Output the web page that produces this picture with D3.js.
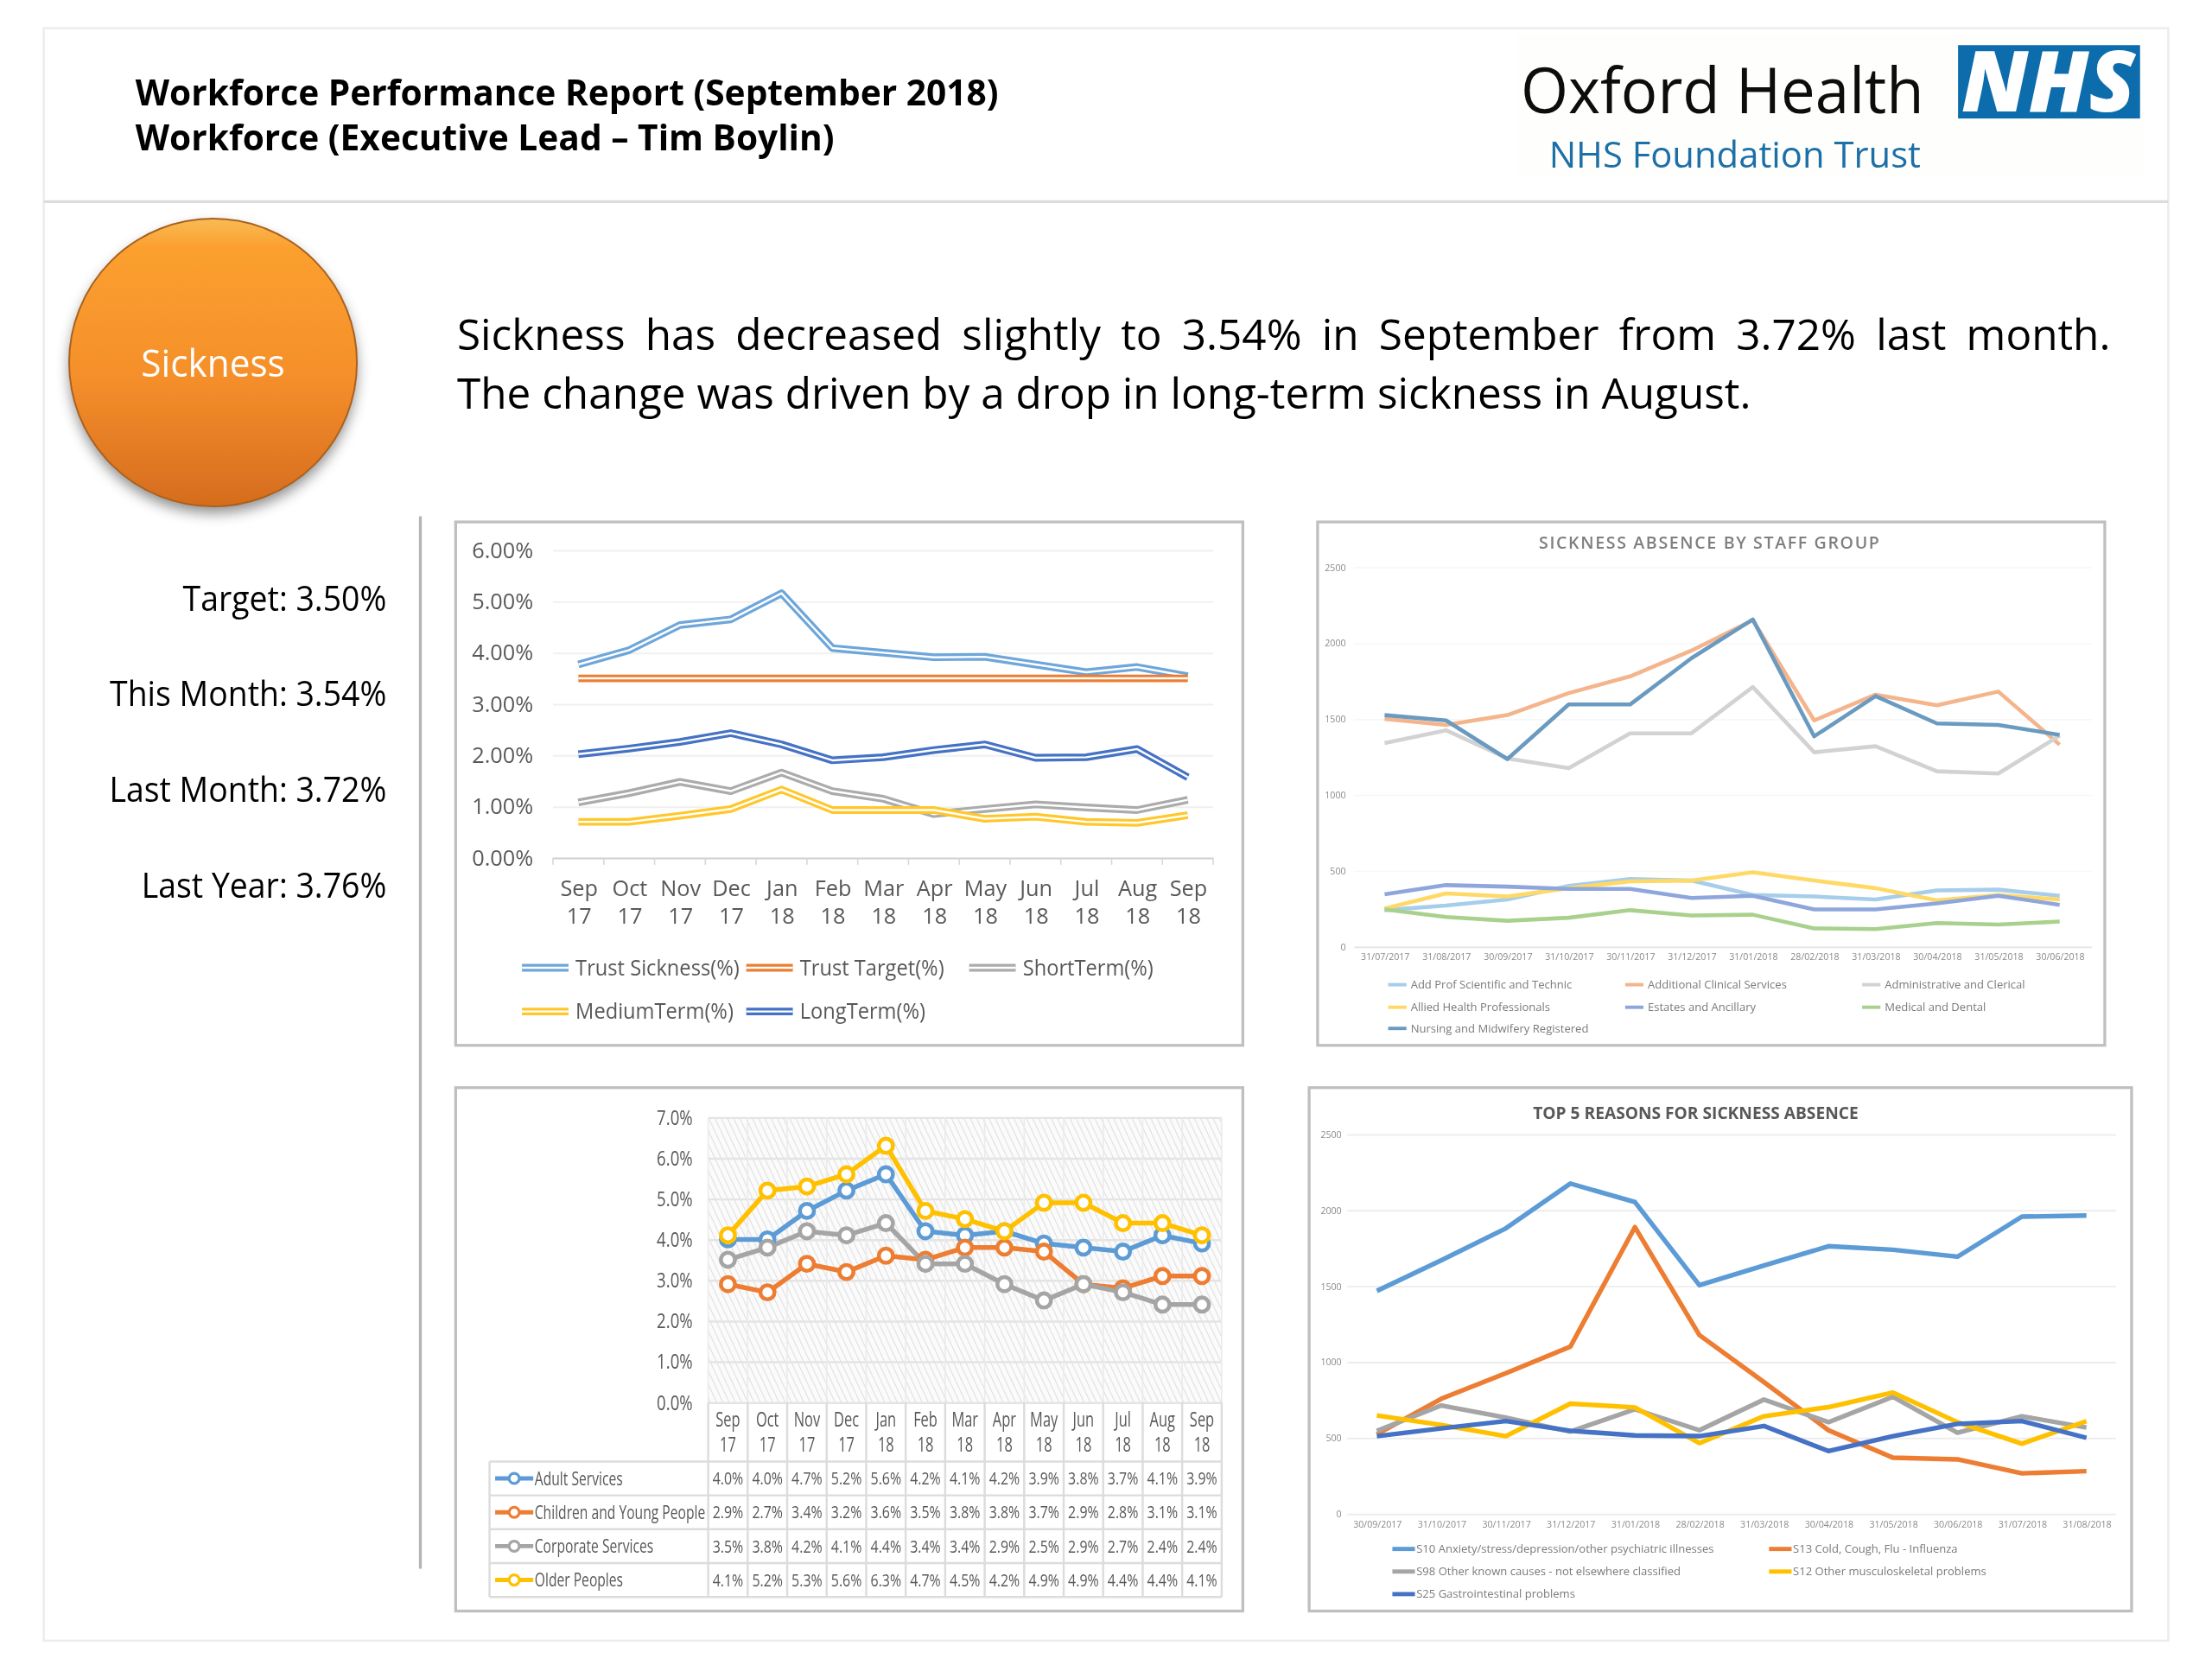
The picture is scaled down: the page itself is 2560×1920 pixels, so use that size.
<!DOCTYPE html>
<html>
<head>
<meta charset="utf-8">
<script src="https://cdnjs.cloudflare.com/ajax/libs/d3/7.8.5/d3.min.js"></script>
<style>
  html, body { margin: 0; padding: 0; background: #fff; }
  text { font-family: "Open Sans", sans-serif; }
  .domain { display: none; }
</style>
</head>
<body>
<svg id="page" width="2560" height="1920" viewBox="0 0 1568 1176"></svg>
<script>
// ---- data ----
var headerLines = ['Workforce Performance Report (September 2018)', 'Workforce (Executive Lead \u2013 Tim Boylin)'];
var summaryLines = ['Sickness has decreased slightly to 3.54% in September from 3.72% last month.', 'The change was driven by a drop in long-term sickness in August.'];
var kpiLabels = ['Target: 3.50%', 'This Month: 3.54%', 'Last Month: 3.72%', 'Last Year: 3.76%'];

var months = ['Sep 17', 'Oct 17', 'Nov 17', 'Dec 17', 'Jan 18', 'Feb 18', 'Mar 18', 'Apr 18', 'May 18', 'Jun 18', 'Jul 18', 'Aug 18', 'Sep 18'];

// top left
var trustSickness = [3.77, 4.05, 4.54, 4.65, 5.16, 4.09, 4.00, 3.91, 3.92, 3.77, 3.62, 3.72, 3.54];
var trustTarget = [3.5, 3.5, 3.5, 3.5, 3.5, 3.5, 3.5, 3.5, 3.5, 3.5, 3.5, 3.5, 3.5];
var shortTerm = [1.08, 1.26, 1.48, 1.30, 1.66, 1.30, 1.15, 0.85, 0.95, 1.04, 0.98, 0.93, 1.13];
var mediumTerm = [0.70, 0.70, 0.82, 0.95, 1.33, 0.93, 0.93, 0.93, 0.76, 0.80, 0.70, 0.68, 0.83];
var longTerm = [2.02, 2.13, 2.26, 2.43, 2.21, 1.90, 1.96, 2.10, 2.21, 1.95, 1.96, 2.12, 1.57];

// top right
var staffDates = ['31/07/2017', '31/08/2017', '30/09/2017', '31/10/2017', '30/11/2017', '31/12/2017', '31/01/2018', '28/02/2018', '31/03/2018', '30/04/2018', '31/05/2018', '30/06/2018'];
var addProf = [240, 270, 310, 400, 445, 435, 340, 330, 310, 370, 375, 335];
var addClinical = [1500, 1460, 1525, 1670, 1780, 1950, 2150, 1490, 1660, 1590, 1680, 1330];
var adminClerical = [1340, 1425, 1240, 1175, 1405, 1405, 1710, 1280, 1320, 1155, 1140, 1390];
var alliedHealth = [250, 350, 330, 385, 430, 435, 490, 435, 385, 305, 340, 310];
var estates = [345, 405, 395, 380, 380, 320, 335, 245, 245, 285, 335, 275];
var medical = [245, 195, 170, 190, 240, 205, 210, 120, 115, 155, 145, 165];
var nursing = [1525, 1490, 1235, 1595, 1595, 1900, 2155, 1385, 1650, 1470, 1460, 1395];

// bottom left
var adultServices = [4.0, 4.0, 4.7, 5.2, 5.6, 4.2, 4.1, 4.2, 3.9, 3.8, 3.7, 4.1, 3.9];
var childrenYoung = [2.9, 2.7, 3.4, 3.2, 3.6, 3.5, 3.8, 3.8, 3.7, 2.9, 2.8, 3.1, 3.1];
var corporate = [3.5, 3.8, 4.2, 4.1, 4.4, 3.4, 3.4, 2.9, 2.5, 2.9, 2.7, 2.4, 2.4];
var olderPeoples = [4.1, 5.2, 5.3, 5.6, 6.3, 4.7, 4.5, 4.2, 4.9, 4.9, 4.4, 4.4, 4.1];

// bottom right
var reasonDates = ['30/09/2017', '31/10/2017', '30/11/2017', '31/12/2017', '31/01/2018', '28/02/2018', '31/03/2018', '30/04/2018', '31/05/2018', '30/06/2018', '31/07/2018', '31/08/2018'];
var s10 = [1468, 1670, 1880, 2175, 2053, 1505, 1635, 1762, 1739, 1693, 1957, 1964];
var s13 = [523, 757, 925, 1101, 1888, 1177, 867, 550, 369, 358, 266, 280];
var s98 = [545, 713, 633, 541, 688, 550, 752, 603, 770, 534, 642, 568];
var s12 = [647, 585, 511, 725, 700, 465, 642, 702, 798, 603, 461, 610];
var s25 = [511, 562, 610, 546, 516, 511, 578, 413, 511, 592, 610, 500];

var svg = d3.select('#page');
var defs = svg.append('defs');

var soft = defs.append('filter').attr('id', 'soft').attr('filterUnits', 'userSpaceOnUse')
  .attr('x', 0).attr('y', 0).attr('width', 1568).attr('height', 1176);
soft.append('feGaussianBlur').attr('stdDeviation', 0.3);

var softer = defs.append('filter').attr('id', 'softer').attr('filterUnits', 'userSpaceOnUse')
  .attr('x', 0).attr('y', 0).attr('width', 1568).attr('height', 1176);
softer.append('feGaussianBlur').attr('stdDeviation', 0.45);

var grad = defs.append('linearGradient').attr('id', 'ball').attr('x1', 0).attr('y1', 0).attr('x2', 0).attr('y2', 1);
grad.append('stop').attr('offset', '0%').attr('stop-color', '#f9bb55');
grad.append('stop').attr('offset', '10%').attr('stop-color', '#fba02f');
grad.append('stop').attr('offset', '55%').attr('stop-color', '#f58f2b');
grad.append('stop').attr('offset', '100%').attr('stop-color', '#d56c1e');

var shadow = defs.append('filter').attr('id', 'ballShadow').attr('x', '-20%').attr('y', '-20%').attr('width', '140%').attr('height', '140%');
shadow.append('feGaussianBlur').attr('stdDeviation', 4.5);

var hatch = defs.append('pattern').attr('id', 'hatch').attr('patternUnits', 'userSpaceOnUse')
  .attr('width', 4).attr('height', 4).attr('patternTransform', 'rotate(-25)');
hatch.append('rect').attr('width', 4).attr('height', 4).attr('fill', '#fbfbfb');
hatch.append('line').attr('x1', 0).attr('x2', 0).attr('y1', 0).attr('y2', 4).attr('stroke', '#dedede').attr('stroke-width', 1.3);

var root = svg.append('g').attr('filter', 'url(#soft)');

// narrows text to a share of its natural width, the reference is squashed sideways
function squeeze(sel, f) {
  sel.each(function () {
    d3.select(this).attr('textLength', this.getComputedTextLength() * f).attr('lengthAdjust', 'spacingAndGlyphs');
  });
}

// ---- page frame ----
root.append('rect').attr('x', 31).attr('y', 20).attr('width', 1506).attr('height', 1143)
  .attr('fill', '#fff').attr('stroke', '#ececec').attr('stroke-width', 1.5);
root.append('line').attr('x1', 31).attr('x2', 1537).attr('y1', 143).attr('y2', 143).attr('stroke', '#dcdcdc').attr('stroke-width', 2);

// header text
root.selectAll('.head').data(headerLines).enter().append('text')
  .attr('class', 'head')
  .attr('x', 96).attr('y', function (d, i) { return 75 + i * 31.5; })
  .attr('font-size', 25.5).attr('font-weight', 700).attr('fill', '#000')
  .text(function (d) { return d; })
  .call(squeeze, 0.977);

// logo
root.append('rect').attr('x', 1075).attr('y', 24).attr('width', 445).attr('height', 100).attr('fill', '#fefefc');
root.append('text').attr('x', 1078).attr('y', 80).attr('font-size', 45).attr('fill', '#111').text('Oxford Health').call(squeeze, 0.963);
root.append('text').attr('x', 1098).attr('y', 119).attr('font-size', 25.6).attr('fill', '#1f6fa8').text('NHS Foundation Trust');
root.append('rect').attr('x', 1388).attr('y', 32).attr('width', 129).attr('height', 52).attr('fill', '#0f6cab');
root.append('text').attr('x', 1452).attr('y', 79).attr('text-anchor', 'middle')
  .attr('font-size', 60).attr('font-weight', 800).attr('font-style', 'italic').attr('fill', '#fff').text('NHS');

// sickness ball
root.append('circle').attr('cx', 151).attr('cy', 262).attr('r', 102).attr('fill', '#555').attr('opacity', 0.65).attr('filter', 'url(#ballShadow)');
root.append('circle').attr('cx', 151).attr('cy', 257).attr('r', 102).attr('fill', 'url(#ball)').attr('stroke', '#a9611f').attr('stroke-width', 1.2);
root.append('text').attr('x', 151).attr('y', 267).attr('text-anchor', 'middle').attr('font-size', 27).attr('fill', '#fff').text('Sickness').call(squeeze, 0.96);

// summary, first line is justified to the right edge
var summary = root.selectAll('.summary').data(summaryLines).enter().append('text')
  .attr('class', 'summary')
  .attr('x', 324).attr('y', function (d, i) { return 248 + i * 42; })
  .attr('font-size', 30.3).attr('fill', '#000')
  .text(function (d) { return d; });
var first = summary.nodes()[0];
var gaps = summaryLines[0].split(' ').length - 1;
d3.select(first).attr('word-spacing', (1172 - first.getComputedTextLength()) / gaps);

// KPI list
root.selectAll('.kpi').data(kpiLabels).enter().append('text')
  .attr('class', 'kpi')
  .attr('x', 274).attr('y', function (d, i) { return 433 + i * 67.7; })
  .attr('text-anchor', 'end').attr('font-size', 24.5).attr('fill', '#000')
  .text(function (d) { return d; })
  .call(squeeze, 0.935);
root.append('line').attr('x1', 298).attr('x2', 298).attr('y1', 366).attr('y2', 1112).attr('stroke', '#b5b5b5').attr('stroke-width', 2);

// ---- shared helpers ----
function panel(x, y, w, h) {
  root.append('rect').attr('x', x).attr('y', y).attr('width', w).attr('height', h)
    .attr('fill', '#fff').attr('stroke', '#bfbfbf').attr('stroke-width', 2);
}

function drawLine(g, x, y, values, labels, color, width) {
  var line = d3.line()
    .x(function (d, i) { return x(labels[i]); })
    .y(function (d) { return y(d); });
  g.append('path').datum(values)
    .attr('fill', 'none').attr('stroke', color).attr('stroke-width', width)
    .attr('stroke-linejoin', 'round')
    .attr('d', line);
}

function twoLineTicks(axisG, lineGap, dy) {
  axisG.selectAll('.tick text').each(function (d) {
    var parts = d.split(' ');
    var t = d3.select(this).text(null);
    t.append('tspan').attr('x', 0).attr('dy', dy).text(parts[0]);
    t.append('tspan').attr('x', 0).attr('dy', lineGap).text(parts[1]);
  });
}

function legendRow(g, items) {
  items.forEach(function (it) {
    g.append('line').attr('x1', it.x).attr('x2', it.x + it.len).attr('y1', it.y).attr('y2', it.y)
      .attr('stroke', it.color).attr('stroke-width', it.width);
    if (it.inner) {
      g.append('line').attr('x1', it.x).attr('x2', it.x + it.len).attr('y1', it.y).attr('y2', it.y)
        .attr('stroke', '#fff').attr('stroke-width', it.inner);
    }
    g.append('text').attr('x', it.x + it.len + it.gap).attr('y', it.y).attr('dy', '0.35em')
      .attr('font-size', it.size).attr('fill', it.textColor).text(it.label)
      .call(squeeze, it.squeeze || 1);
  });
}

// ---- top left: sickness trend with double lines ----
panel(323, 370, 558, 371);
var gA = root.append('g').attr('filter', 'url(#soft)');
var xA = d3.scalePoint().domain(months).range([410, 842]);
var yA = d3.scaleLinear().domain([0, 6]).range([608, 390]);

gA.append('g').attr('transform', 'translate(392,0)')
  .call(d3.axisLeft(yA).tickValues([0, 1, 2, 3, 4, 5, 6]).tickFormat(function (d) { return d.toFixed(2) + '%'; }).tickSize(-468).tickPadding(14))
  .call(function (a) {
    a.selectAll('.tick line').attr('stroke', function (d) { return d === 0 ? '#d0d0d0' : '#f0f0f0'; }).attr('stroke-width', 1.2);
    a.selectAll('text').attr('font-size', 15.5).attr('fill', '#595959');
  });
gA.append('g').attr('transform', 'translate(0,608)')
  .call(d3.axisBottom(xA).tickSize(0).tickPadding(0))
  .call(function (a) {
    a.selectAll('text').attr('font-size', 15.5).attr('fill', '#595959');
    twoLineTicks(a, 20, 27);
  });
// little separators under the axis
var edgeA = d3.scaleLinear().domain([0, months.length]).range([392, 860]);
gA.selectAll('.edge').data(d3.range(months.length + 1)).enter().append('line')
  .attr('x1', function (d) { return edgeA(d); }).attr('x2', function (d) { return edgeA(d); })
  .attr('y1', 608).attr('y2', 613).attr('stroke', '#d8d8d8');

var seriesA = [
  { v: trustSickness, c: '#6ea6da', n: 'Trust Sickness(%)' },
  { v: trustTarget, c: '#ed7d31', n: 'Trust Target(%)' },
  { v: shortTerm, c: '#ababab', n: 'ShortTerm(%)' },
  { v: mediumTerm, c: '#ffc72c', n: 'MediumTerm(%)' },
  { v: longTerm, c: '#4472c4', n: 'LongTerm(%)' }
];
seriesA.forEach(function (s) {
  drawLine(gA, xA, yA, s.v, months, s.c, 5.4);
  drawLine(gA, xA, yA, s.v, months, '#fff', 1.5);
});
var legA = [[370, 686], [529, 686], [687, 686], [370, 717], [529, 717]];
legendRow(gA, seriesA.map(function (s, i) {
  return { x: legA[i][0], y: legA[i][1], len: 33, gap: 5, color: s.c, width: 5.4, inner: 1.5, size: 15.5, textColor: '#595959', label: s.n, squeeze: 0.935 };
}));

// ---- top right: staff group ----
panel(934, 370, 558, 371);
var gB = root.append('g').attr('filter', 'url(#softer)');
gB.append('text').attr('x', 1212).attr('y', 389).attr('text-anchor', 'middle')
  .attr('font-size', 12).attr('font-weight', 600).attr('letter-spacing', 1).attr('fill', '#7f7f7f')
  .text('SICKNESS ABSENCE BY STAFF GROUP');
var xB = d3.scalePoint().domain(staffDates).range([981.5, 1460]);
var yB = d3.scaleLinear().domain([0, 2500]).range([671, 402]);
gB.append('g').attr('transform', 'translate(960,0)')
  .call(d3.axisLeft(yB).tickValues([0, 500, 1000, 1500, 2000, 2500]).tickFormat(d3.format('d')).tickSize(-523).tickPadding(6))
  .call(function (a) {
    a.selectAll('.tick line').attr('stroke', function (d) { return d === 0 ? '#e4e4e4' : '#f7f7f7'; });
    a.selectAll('text').attr('font-size', 6.5).attr('fill', '#8a8a8a');
  });
gB.append('g').attr('transform', 'translate(0,671)')
  .call(d3.axisBottom(xB).tickSize(0).tickPadding(5))
  .call(function (a) { a.selectAll('text').attr('font-size', 6.5).attr('fill', '#8a8a8a'); });

var seriesB = [
  { v: addProf, c: '#a6cdea', n: 'Add Prof Scientific and Technic' },
  { v: addClinical, c: '#f4b48c', n: 'Additional Clinical Services' },
  { v: adminClerical, c: '#d2d2d2', n: 'Administrative and Clerical' },
  { v: alliedHealth, c: '#ffd966', n: 'Allied Health Professionals' },
  { v: estates, c: '#8fa6dc', n: 'Estates and Ancillary' },
  { v: medical, c: '#a9d18e', n: 'Medical and Dental' },
  { v: nursing, c: '#6b9ac0', n: 'Nursing and Midwifery Registered' }
];
seriesB.forEach(function (s) { drawLine(gB, xB, yB, s.v, staffDates, s.c, 2.8); });
var legB = [[984, 698], [1152, 698], [1320, 698], [984, 714], [1152, 714], [1320, 714], [984, 729]];
legendRow(gB, seriesB.map(function (s, i) {
  return { x: legB[i][0], y: legB[i][1], len: 13, gap: 3, color: s.c, width: 2.4, size: 8, textColor: '#7a7a7a', label: s.n };
}));

// ---- bottom left: divisions with data table ----
panel(323, 771, 558, 371);
var gC = root.append('g').attr('filter', 'url(#soft)');
var xC = d3.scaleBand().domain(months).range([502, 866]);
var yC = d3.scaleLinear().domain([0, 7]).range([994, 792]);
gC.append('rect').attr('x', 502).attr('y', 792).attr('width', 364).attr('height', 202).attr('fill', 'url(#hatch)');
gC.append('g').attr('transform', 'translate(502,0)')
  .call(d3.axisLeft(yC).tickValues([0, 1, 2, 3, 4, 5, 6, 7]).tickFormat(function (d) { return d.toFixed(1) + '%'; }).tickSize(-364).tickPadding(11))
  .call(function (a) {
    a.selectAll('.tick line').attr('stroke', '#e4e4e4').attr('stroke-width', 1.5);
    a.selectAll('text').attr('font-size', 15).attr('fill', '#595959').call(squeeze, 0.76);
  });
gC.append('g').attr('transform', 'translate(' + 0 + ',994)')
  .call(d3.axisBottom(xC).tickSize(0).tickPadding(0))
  .call(function (a) {
    a.selectAll('text').attr('font-size', 14).attr('fill', '#595959');
    twoLineTicks(a, 18, 17);
    a.selectAll('tspan').call(squeeze, 0.72);
  });

// table grid
var seriesC = [
  { v: adultServices, c: '#5b9bd5', n: 'Adult Services' },
  { v: childrenYoung, c: '#ed7d31', n: 'Children and Young People' },
  { v: corporate, c: '#a5a5a5', n: 'Corporate Services' },
  { v: olderPeoples, c: '#ffc000', n: 'Older Peoples' }
];
var rowY = d3.scaleBand().domain(seriesC.map(function (s) { return s.n; })).range([1036, 1132]);
var gridColor = '#dcdcdc';
rowY.domain().concat(['end']).forEach(function (n, i) {
  var ly = 1036 + i * rowY.bandwidth();
  gC.append('line').attr('x1', 347).attr('x2', 866).attr('y1', ly).attr('y2', ly).attr('stroke', gridColor).attr('stroke-width', 1.5);
});
gC.append('line').attr('x1', 347).attr('x2', 347).attr('y1', 1036).attr('y2', 1132).attr('stroke', gridColor).attr('stroke-width', 1.5);
months.concat(['end']).forEach(function (m, i) {
  var lx = 502 + i * xC.bandwidth();
  gC.append('line').attr('x1', lx).attr('x2', lx).attr('y1', 792).attr('y2', 994).attr('stroke', '#ebebeb').attr('stroke-width', 1);
  gC.append('line').attr('x1', lx).attr('x2', lx).attr('y1', 994).attr('y2', 1132).attr('stroke', gridColor).attr('stroke-width', 1.5);
});

var midC = function (m) { return xC(m) + xC.bandwidth() / 2; };
seriesC.forEach(function (s) {
  drawLine(gC, midC, yC, s.v, months, s.c, 3.4);
});
seriesC.forEach(function (s) {
  gC.selectAll(null).data(s.v).enter().append('circle')
    .attr('cx', function (d, i) { return midC(months[i]); })
    .attr('cy', function (d) { return yC(d); })
    .attr('r', 5).attr('fill', '#fff').attr('stroke', s.c).attr('stroke-width', 2.8);
});

seriesC.forEach(function (s) {
  var cy = rowY(s.n) + rowY.bandwidth() / 2;
  gC.append('line').attr('x1', 351).attr('x2', 378).attr('y1', cy).attr('y2', cy).attr('stroke', s.c).attr('stroke-width', 3);
  gC.append('circle').attr('cx', 364.5).attr('cy', cy).attr('r', 3.6).attr('fill', '#fff').attr('stroke', s.c).attr('stroke-width', 2);
  gC.append('text').attr('x', 379).attr('y', cy).attr('dy', '0.35em').attr('font-size', 13.5).attr('fill', '#595959').text(s.n).call(squeeze, 0.71);
  gC.selectAll(null).data(s.v).enter().append('text')
    .attr('x', function (d, i) { return midC(months[i]); })
    .attr('y', cy).attr('dy', '0.35em').attr('text-anchor', 'middle')
    .attr('font-size', 12.5).attr('fill', '#595959')
    .text(function (d) { return d.toFixed(1) + '%'; })
    .call(squeeze, 0.78);
});

// ---- bottom right: top reasons ----
panel(928, 771, 583, 371);
var gD = root.append('g').attr('filter', 'url(#softer)');
gD.append('text').attr('x', 1202).attr('y', 793).attr('text-anchor', 'middle')
  .attr('font-size', 12.5).attr('font-weight', 700).attr('fill', '#595959')
  .text('TOP 5 REASONS FOR SICKNESS ABSENCE')
  .call(squeeze, 0.94);
var xD = d3.scalePoint().domain(reasonDates).range([976, 1479]);
var yD = d3.scaleLinear().domain([0, 2500]).range([1073, 804]);
gD.append('g').attr('transform', 'translate(955,0)')
  .call(d3.axisLeft(yD).tickValues([0, 500, 1000, 1500, 2000, 2500]).tickFormat(d3.format('d')).tickSize(-545).tickPadding(4))
  .call(function (a) {
    a.selectAll('.tick line').attr('stroke', '#ededed').attr('stroke-width', 1.2);
    a.selectAll('text').attr('font-size', 6.5).attr('fill', '#8a8a8a');
  });
gD.append('g').attr('transform', 'translate(0,1073)')
  .call(d3.axisBottom(xD).tickSize(0).tickPadding(5))
  .call(function (a) { a.selectAll('text').attr('font-size', 6.5).attr('fill', '#8a8a8a'); });

var seriesD = [
  { v: s10, c: '#5b9bd5', n: 'S10 Anxiety/stress/depression/other psychiatric illnesses' },
  { v: s13, c: '#ed7d31', n: 'S13 Cold, Cough, Flu - Influenza' },
  { v: s98, c: '#a5a5a5', n: 'S98 Other known causes - not elsewhere classified' },
  { v: s12, c: '#ffc000', n: 'S12 Other musculoskeletal problems' },
  { v: s25, c: '#4472c4', n: 'S25 Gastrointestinal problems' }
];
seriesD.forEach(function (s) { drawLine(gD, xD, yD, s.v, reasonDates, s.c, 3.3); });
var legD = [[987, 1098], [1254, 1098], [987, 1114], [1254, 1114], [987, 1130]];
legendRow(gD, seriesD.map(function (s, i) {
  return { x: legD[i][0], y: legD[i][1], len: 16, gap: 1, color: s.c, width: 3, size: 8, textColor: '#7a7a7a', label: s.n };
}));
</script>
</body>
</html>
